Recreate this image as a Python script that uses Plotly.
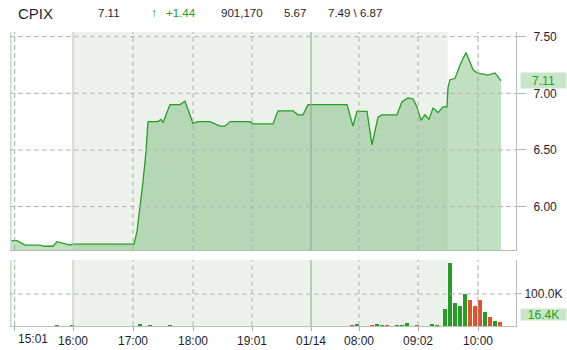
import plotly.graph_objects as go

# ---------------- data ----------------
# x positions are trading-minute indices along the compressed session axis
tick_pos = [4.7, 63, 123, 183, 242, 301, 349, 408, 468]
tick_labels = ["15:01", "16:00", "17:00", "18:00", "19:01", "01/14", "08:00", "09:02", "10:00"]

price_idx = [0, 7, 15, 30, 34, 43, 47, 55, 60, 63, 124, 127, 130, 133, 136, 138,
             148, 151, 153, 160, 170, 175, 183, 188, 200, 205, 210, 215, 220, 240,
             243, 263, 268, 283, 288, 293, 298, 337, 343, 347, 357, 362, 368, 372,
             387, 392, 398, 403, 407, 411, 415, 419, 423, 428, 433, 437, 438, 440,
             445, 447, 450, 456, 460, 463, 467, 472, 478, 485, 486, 491]
price = [5.70, 5.70, 5.66, 5.66, 5.65, 5.65, 5.69, 5.67, 5.66, 5.668, 5.668, 5.78,
         5.985, 6.22, 6.485, 6.75, 6.75, 6.77, 6.74, 6.90, 6.90, 6.93, 6.735, 6.75,
         6.75, 6.73, 6.71, 6.71, 6.75, 6.75, 6.73, 6.73, 6.845, 6.845, 6.81, 6.81,
         6.90, 6.90, 6.71, 6.84, 6.84, 6.544, 6.79, 6.81, 6.81, 6.926, 6.96, 6.95,
         6.88, 6.76, 6.81, 6.77, 6.87, 6.83, 6.88, 6.88, 7.05, 7.12, 7.13, 7.18,
         7.25, 7.36, 7.28, 7.21, 7.18, 7.17, 7.16, 7.18, 7.17, 7.11]

vol_idx = [47, 62, 130, 140, 160, 342, 347, 362, 367, 372, 377, 387, 392, 397, 407,
           422, 427, 434.7, 439.7, 444.7, 450, 455, 460, 465, 470, 475, 480, 485, 490]
vol = [2500, 2500, 6000, 2500, 2500, 2500, 5000, 2500, 5000, 2500, 2500, 2500, 2500,
       8000, 2500, 5000, 2500, 52000, 198000, 73000, 62500, 100000, 81000, 62500,
       81000, 45000, 29000, 16600, 13500]
vol_dir = ["u", "u", "u", "u", "u", "d", "u", "d", "u", "u", "d", "u", "u", "u", "d",
           "u", "u", "u", "u", "u", "u", "u", "d", "d", "d", "u", "d", "u", "d"]

header = {"symbol": "CPIX", "last": "7.11", "change": "+1.44", "volume": "901,170",
          "open": "5.67", "high_low": "7.49 \\ 6.87"}
last_price_label = "7.11"
last_volume_label = "16.4K"
price_ticks = [6.0, 6.5, 7.0, 7.5]
volume_ticks = [100000]
volume_tick_text = ["100.0K"]

extended_start = 63      # 16:00 (extended hours begin)
regular_open = 437.7     # 09:30 (regular session opens)
day_break = "01/14"
ext_break = "16:00"

# ---------------- styling ----------------
W, H = 567, 350
ML, MR, MT, MB = 10, 51, 32, 24
PW = W - ML - MR
PH = H - MT - MB
TXT = "#1f1f33"
GREEN = "#23a023"
RED = "#e4502c"
SHADE = "#edf1ec"
FONT = "Liberation Sans, Arial, sans-serif"


def px_x(px):
    return (px - ML) / PW


def px_y(py):
    return (H - MB - py) / PH


price_dom = [px_y(250), 1.0]
vol_dom = [0.0, px_y(260)]

fig = go.Figure()
fig.add_trace(go.Scatter(
    x=price_idx, y=price, mode="lines",
    line=dict(color=GREEN, width=1.3, shape="linear"),
    fill="tozeroy", fillcolor="rgba(100,178,100,0.40)",
    xaxis="x", yaxis="y", hoverinfo="skip", showlegend=False))
fig.add_trace(go.Bar(
    x=vol_idx, y=vol, width=4,
    marker=dict(color=[GREEN if d == "u" else RED for d in vol_dir], line=dict(width=0)),
    xaxis="x2", yaxis="y2", hoverinfo="skip", showlegend=False))

shapes = []
for xr, yr in [("x", "y domain"), ("x2", "y2 domain")]:
    shapes.append(dict(type="rect", xref=xr, yref=yr, x0=extended_start, x1=regular_open,
                       y0=0, y1=1, fillcolor=SHADE, line=dict(width=0), layer="below"))
    for pos, lab in zip(tick_pos, tick_labels):
        if lab == ext_break:
            shapes.append(dict(type="line", xref=xr, yref=yr, x0=pos, x1=pos, y0=0, y1=1,
                               line=dict(color="#b9bdb9", width=1), layer="above"))
        elif lab == day_break:
            shapes.append(dict(type="line", xref=xr, yref=yr, x0=pos, x1=pos, y0=0, y1=1,
                               line=dict(color="#8fa28f", width=1), layer="above"))
        else:
            shapes.append(dict(type="line", xref=xr, yref=yr, x0=pos, x1=pos, y0=0, y1=1,
                               line=dict(color="#ffffff", width=1), layer="below"))
            shapes.append(dict(type="line", xref=xr, yref=yr, x0=pos, x1=pos, y0=0, y1=1,
                               line=dict(color="#a3ada3", width=1, dash="5px,3px"),
                               layer="above"))
    # left edge tint
    shapes.append(dict(type="line", xref=xr, yref=yr, x0=0.6, x1=0.6, y0=0, y1=1,
                       line=dict(color="#c4e2c4", width=2), layer="above"))

for v in price_ticks:
    shapes.append(dict(type="line", xref="x domain", yref="y", x0=0, x1=1, y0=v, y1=v,
                       line=dict(color="#b0b4b0", width=1, dash="5px,3px"), layer="above"))
for v in volume_ticks:
    shapes.append(dict(type="line", xref="x2 domain", yref="y2", x0=0, x1=1, y0=v, y1=v,
                       line=dict(color="#b0b4b0", width=1, dash="5px,3px"), layer="above"))

annotations = []
hy = px_y(13)
hdr = [
    (header["symbol"], 16, 15, TXT),
    (header["last"], 96, 11.5, TXT),
    ("\u2191", 149, 12, GREEN),
    (header["change"], 164, 11.5, GREEN),
    (header["volume"], 219, 11.5, TXT),
    (header["open"], 282, 11.5, TXT),
    (header["high_low"], 326, 11.5, TXT),
]
for text, x, size, col in hdr:
    annotations.append(dict(text=text, xref="paper", yref="paper", x=px_x(x), y=hy,
                            xanchor="left", yanchor="middle", showarrow=False,
                            font=dict(family=FONT, size=size, color=col)))

# first x label sits to the right of its tick (left edge), as in the source
annotations.append(dict(text=tick_labels[0], xref="x2", yref="paper", x=tick_pos[0],
                        y=0, yanchor="top", xanchor="left", xshift=1, yshift=-4,
                        showarrow=False, font=dict(family=FONT, size=12, color=TXT)))

annotations.append(dict(text=last_price_label, xref="paper", yref="y", x=1, y=7.115,
                        xanchor="left", yanchor="middle", xshift=3.5, showarrow=False,
                        bgcolor="#c8e6c8", width=45, height=15, borderpad=0,
                        font=dict(family=FONT, size=12, color=GREEN)))
annotations.append(dict(text=last_volume_label, xref="paper", yref="paper", x=1,
                        y=px_y(314), xanchor="left", yanchor="middle", xshift=3.5,
                        showarrow=False, bgcolor="#c8e6c8", width=45, height=11,
                        borderpad=0, font=dict(family=FONT, size=12, color=GREEN)))

fig.update_layout(
    width=W, height=H,
    margin=dict(l=ML, r=MR, t=MT, b=MB, pad=0, autoexpand=False),
    paper_bgcolor="white", plot_bgcolor="white",
    font=dict(family=FONT, size=12, color=TXT),
    showlegend=False,
    bargap=0,
    xaxis=dict(domain=[0, 1], range=[0, PW], anchor="y", showticklabels=False,
               showgrid=False, zeroline=False, showline=True, linecolor="#b4bcb4",
               linewidth=1, ticks="", automargin=False),
    xaxis2=dict(domain=[0, 1], range=[0, PW], anchor="y2", matches="x",
                tickmode="array", tickvals=tick_pos,
                ticktext=[""] + tick_labels[1:],
                ticks="outside", ticklen=4, tickcolor="#a8aca8", showgrid=False,
                zeroline=False, showline=True, linecolor="#bdbdbd", linewidth=1,
                ticklabeloverflow="allow", automargin=False,
                tickfont=dict(family=FONT, size=12, color=TXT)),
    yaxis=dict(domain=price_dom, range=[5.617, 7.541], side="right", anchor="x",
               tickmode="array", tickvals=price_ticks,
               ticktext=["%.2f" % v for v in price_ticks],
               showgrid=True, gridcolor="#ffffff", gridwidth=1, zeroline=False,
               showline=True, linecolor="#bdbdbd", linewidth=1,
               ticks="outside", ticklen=9, tickcolor="#b4b8b4",
               ticklabelstandoff=5, automargin=False,
               tickfont=dict(family=FONT, size=12, color=TXT)),
    yaxis2=dict(domain=vol_dom, range=[0, 206000], side="right", anchor="x2",
                tickmode="array", tickvals=volume_ticks, ticktext=volume_tick_text,
                showgrid=True, gridcolor="#ffffff", gridwidth=1, zeroline=False,
                showline=True, linecolor="#bdbdbd", linewidth=1,
                ticks="outside", ticklen=5, tickcolor="#b4b8b4",
                ticklabelstandoff=0, automargin=False,
                tickfont=dict(family=FONT, size=12, color=TXT)),
    shapes=shapes,
    annotations=annotations,
)

fig.write_html("out.html")
